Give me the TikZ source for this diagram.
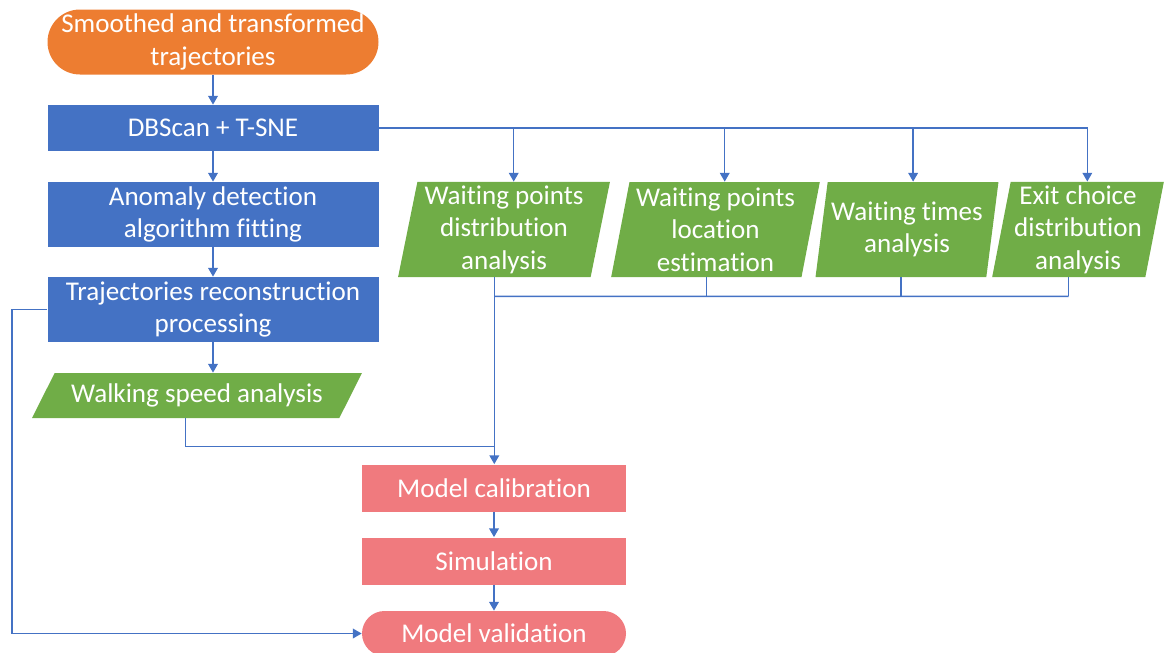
\documentclass[tikz,border=0pt]{standalone}
\usepackage{fontspec}
\setmainfont{Carlito}[Ligatures=NoCommon]
\usepackage{tikz}
\usetikzlibrary{shapes.geometric, arrows.meta, positioning, calc}
\definecolor{ofcOrange}{HTML}{ED7D31}
\definecolor{ofcBlue}{HTML}{4472C4}
\definecolor{ofcGreen}{HTML}{70AD47}
\definecolor{ofcRed}{HTML}{F07A7E}
\tikzset{
  base/.style    = {text=white, align=center, inner sep=2pt,
                    font=\fontsize{15.4}{18.5}\selectfont},
  startbox/.style = {base, rectangle, fill=ofcOrange, rounded corners=0.65cm,
                    minimum width=6.62cm, minimum height=1.3cm},
  procbox/.style  = {base, rectangle, fill=ofcBlue, minimum width=6.62cm},
  databox/.style  = {base, trapezium, trapezium stretches=true, fill=ofcGreen,
                    trapezium left angle=79, trapezium right angle=101,
                    minimum height=1.9cm},
  modelbox/.style = {base, rectangle, fill=ofcRed, minimum width=5.28cm,
                    minimum height=0.94cm},
  endbox/.style   = {base, rectangle, fill=ofcRed, rounded corners=0.45cm,
                    minimum width=5.28cm, minimum height=0.9cm},
  line/.style     = {draw=ofcBlue, line width=0.85pt},
  arrow/.style    = {line, -{Triangle[length=5pt, width=5.5pt]}},
}

\begin{document}
\begin{tikzpicture}
  \useasboundingbox (0,0) rectangle (23.32,-13.04);

  %% left column
  \node[startbox] (start) at (4.26,-0.84) {Smoothed and transformed\\trajectories};
  \node[procbox, minimum height=0.92cm] (dbscan) at (4.26,-2.56) {DBScan + T-SNE};
  \node[procbox, minimum height=1.3cm] (anomaly) at (4.26,-4.29) {Anomaly detection\\algorithm fitting};
  \node[procbox, minimum height=1.3cm] (recon) at (4.26,-6.19) {Trajectories reconstruction\\processing};
  \node[databox, minimum width=6.6cm, minimum height=0.9cm,
        trapezium left angle=56, trapezium right angle=124] (walk) at (3.94,-7.91) {Walking speed analysis};

  %% analysis row
  \node[databox, minimum width=4.24cm] (wpdist) at (10.08,-4.59) {Waiting points\\distribution\\analysis};
  \node[databox, minimum width=4.18cm] (wploc)  at (14.31,-4.59) {Waiting points\\location\\estimation};
  \node[databox, minimum width=3.4cm]  (wtime)  at (18.14,-4.59) {Waiting times\\analysis};
  \node[databox, minimum width=3.4cm]  (exitc)  at (21.56,-4.59) {Exit choice\\distribution\\analysis};

  %% model part
  \node[modelbox] (calib) at (9.88,-9.76)  {Model calibration};
  \node[modelbox] (sim)   at (9.88,-11.22) {Simulation};
  \node[endbox]   (valid) at (9.88,-12.67) {Model validation};

  %% Connections
  \draw[arrow] (start)   -- (dbscan);
  \draw[arrow] (dbscan)  -- (anomaly);
  \draw[arrow] (anomaly) -- (recon);
  \draw[arrow] (recon.south) -- (recon.south |- walk.north);

  \foreach \n in {wpdist, wploc, wtime, exitc}{
    \draw[arrow] (dbscan.east) -| ($(\n.top left corner)!0.5!(\n.top right corner)$);
    \draw[line] ($(\n.bottom left corner)!0.5!(\n.bottom right corner)$) -- ++(0,-0.38) coordinate (\n-b);
  }
  \draw[line] (wpdist-b) -- (exitc-b);
  \coordinate (merge) at ($(wpdist-b)+(0,-3.0)$);
  \draw[line]  ($(walk.bottom left corner)!0.5!(walk.bottom right corner)$) |- (merge);
  \draw[arrow] (wpdist-b) -- (wpdist-b |- calib.north);
  \draw[arrow] (calib) -- (sim);
  \draw[arrow] (sim)   -- (valid);
  \draw[arrow] (recon.west) -- ++(-0.7,0) |- (valid.west);

\end{tikzpicture}
\end{document}
